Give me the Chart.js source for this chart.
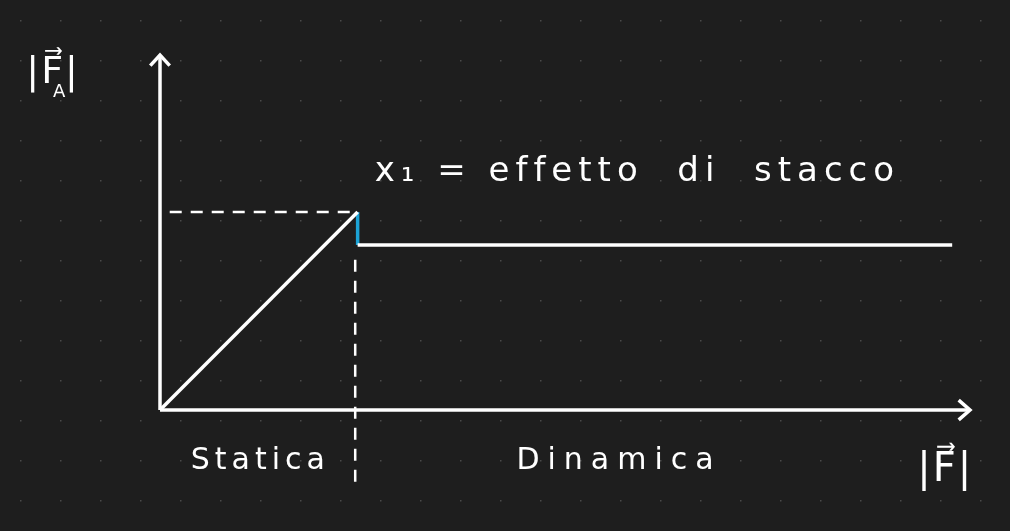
<!DOCTYPE html>
<html><head><meta charset="utf-8">
<script src="https://cdn.jsdelivr.net/npm/chart.js@4"></script>
<style>html,body{margin:0;background:#1e1e1e}#w{width:1010px;height:531px}</style>
</head><body><div id="w"><canvas id="c"></canvas></div>
<script>
// values in axis units (0-100)
const staticLine = [{x:0,y:0},{x:24.4,y:55.8}];
const jumpLine = [{x:24.4,y:55.8},{x:24.4,y:46.5}];
const dynamicLine = [{x:24.4,y:46.5},{x:97.8,y:46.5}];
const dashH = [{x:1.2,y:55.8},{x:24.4,y:55.8}];
const dashV = [{x:24.1,y:42.3},{x:24.1,y:-22.5}];
const xAxis = [{x:0,y:0},{x:100,y:0}];
const yAxis = [{x:0,y:0},{x:0,y:100}];
const xArrow = [{x:98.6,y:2.8},{x:100,y:0},{x:98.6,y:-2.8}];
const yArrow = [{x:-1.2,y:97},{x:0,y:100},{x:1.2,y:97}];
const labels = [
 {t:"|F\u20D7|", x:-16.5, y:95, s:38, ls:2},
 {t:"A", x:-13.2, y:89.5, s:18, ls:0},
 {t:"x\u2081 = effetto  di  stacco", x:26.5, y:67, s:34, ls:6},
 {t:"Statica", x:3.8, y:-14.5, s:30, ls:5},
 {t:"Dinamica", x:44, y:-14.5, s:30, ls:8},
 {t:"|F\u20D7|", x:93.5, y:-17, s:40, ls:2}
];
const W='#ffffff';
function ds(data,color,extra){return Object.assign({data,borderColor:color,borderWidth:3.5,pointRadius:0,showLine:true,fill:false,tension:0,clip:false},extra||{});}
const bg={id:'bg',beforeDraw(ch){const c=ch.ctx;c.save();c.fillStyle='#1e1e1e';c.fillRect(0,0,ch.width,ch.height);c.fillStyle='#4a4a4a';for(let x=20;x<ch.width;x+=40)for(let y=20;y<ch.height;y+=40){c.fillRect(x,y,1.5,1.5);}c.restore();}};
const txt={id:'txt',afterDraw(ch){const c=ch.ctx,xs=ch.scales.x,ys=ch.scales.y;c.save();c.fillStyle=W;c.textBaseline='middle';labels.forEach(l=>{c.font=l.s+'px "DejaVu Sans"';c.letterSpacing=l.ls+'px';c.fillText(l.t,xs.getPixelForValue(l.x),ys.getPixelForValue(l.y));});c.restore();}};
new Chart(document.getElementById('c'),{type:'scatter',
 data:{datasets:[ds(xAxis,W),ds(yAxis,W),ds(xArrow,W),ds(yArrow,W),ds(staticLine,W),ds(dynamicLine,W),ds(jumpLine,'#1ca3d6'),ds(dashH,W,{borderDash:[12,9],borderWidth:2.5}),ds(dashV,W,{borderDash:[12,9],borderWidth:2.5})]},
 options:{responsive:true,maintainAspectRatio:false,animation:false,layout:{padding:{left:160,right:40,top:55,bottom:121}},
 plugins:{legend:{display:false},tooltip:{enabled:false}},
 scales:{x:{type:'linear',min:0,max:100,display:false},y:{type:'linear',min:0,max:100,display:false}}},
 plugins:[bg,txt]});
</script></body></html>
